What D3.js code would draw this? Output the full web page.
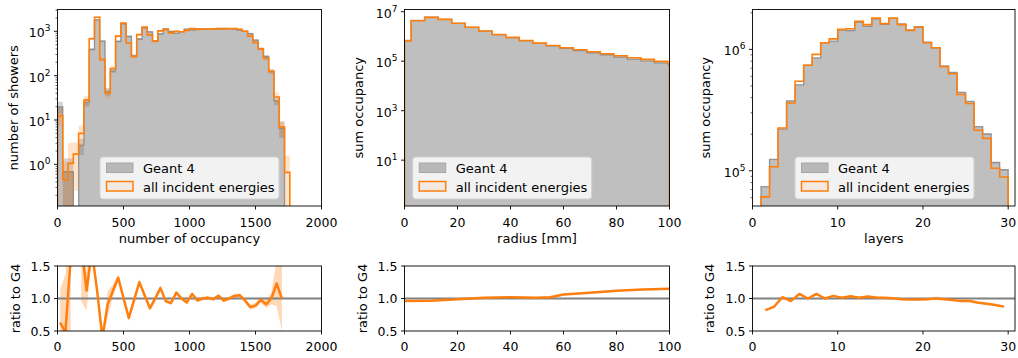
<!DOCTYPE html>
<html><head><meta charset="utf-8">
<script src="https://cdn.jsdelivr.net/npm/d3@7"></script>
<style>body{margin:0;background:#fff} text{font-family:"DejaVu Sans",sans-serif;fill:#000}</style>
</head><body><svg id="c" width="1018" height="358"></svg>
<script>
// ---------------- data ----------------
const seriesNames = ["Geant 4", "all incident energies"];

// panel 1: number of occupancy (bin width 40)
const occEdges = d3.range(0, 1761, 40);
const occG4  = [19.8,0.68,0.68,0,2.7,25,390,1800,600,44,128,590,1480,770,280,670,1190,975,610,880,1135,990,910,980,1115,1075,1135,1120,1120,1130,1115,1165,1150,1137,1057,1000,890,630,408,270,125,27,6.5,0];
const occGen = [12.4,0.45,1.05,1.7,5.0,28,680,2080,230,40,145,780,1540,545,270,840,1250,830,600,1020,1090,920,1000,980,1050,1150,1100,1120,1130,1120,1160,1130,1150,1160,1110,1000,780,560,400,245,125,33,7,0.66];
const occGenErr = [0.4,1.5,1.9,0.85,0.5,0.25,0.08,0.05,0.1,0.25,0.12,0.06,0.04,0.06,0.1,0.05,0.04,0.05,0.06,0.04,0.04,0.04,0.04,0.04,0.04,0.04,0.04,0.04,0.04,0.04,0.04,0.04,0.04,0.04,0.04,0.04,0.05,0.06,0.07,0.09,0.12,0.27,0.35,1.4];
const occG4Err  = [0.3,1.0,1.0,0,0.4,0.2,0.06,0.03,0.05,0.2,0.1,0.05,0.03,0.04,0.07,0.04,0.03,0.03,0.04,0.03,0.03,0.03,0.03,0.03,0.03,0.03,0.03,0.03,0.03,0.03,0.03,0.03,0.03,0.03,0.03,0.03,0.04,0.05,0.06,0.07,0.1,0.2,0.4,0];
const occRatio = [0.63,0.48,1.62,null,1.85,1.12,1.74,1.12,0.40,0.91,1.12,1.32,1.01,0.70,0.975,1.25,1.05,0.85,1.0,1.16,0.96,0.93,1.09,1.0,0.94,1.07,0.97,1.0,1.01,0.99,1.04,0.97,1.0,1.04,1.05,0.97,0.87,0.89,0.98,0.91,1.0,1.23,1.0];
const occRatioErr = [0.5,0.9,1.2,null,0.9,0.3,0.12,0.05,0.06,0.2,0.1,0.05,0.04,0.05,0.07,0.05,0.04,0.04,0.05,0.04,0.03,0.03,0.03,0.03,0.03,0.03,0.03,0.03,0.03,0.03,0.03,0.03,0.03,0.03,0.03,0.03,0.04,0.04,0.05,0.06,0.09,0.35,0.5];

// panel 2: radius [mm]
const radiusEdges = [0,2.5,7.6,12.7,17.8,22.9,28,33.1,38.2,43.3,48.4,53.5,58.6,63.7,68.8,73.9,79,84.1,89.2,94.3,99.4,100];
const radiusG4  = [6.9e5,4.45e6,6.05e6,4.95e6,3.4e6,2.33e6,1.64e6,1.18e6,9.0e5,6.75e5,5.3e5,4.2e5,3.3e5,2.7e5,2.2e5,1.82e5,1.48e5,1.22e5,1.03e5,8.6e4,7.1e4];
const radiusGen = [6.6e5,4.3e6,5.9e6,4.9e6,3.4e6,2.35e6,1.66e6,1.2e6,9.2e5,6.9e5,5.4e5,4.3e5,3.5e5,2.9e5,2.4e5,2.0e5,1.66e5,1.38e5,1.18e5,9.8e4,8.2e4];
const radiusRatioX = [0,10,20,30,40,50,55,60,70,80,90,100];
const radiusRatio  = [0.96,0.965,0.99,1.01,1.02,1.01,1.02,1.06,1.09,1.12,1.14,1.15];
const radiusRatioErr = [0.012,0.012,0.012,0.012,0.012,0.012,0.012,0.012,0.012,0.012,0.012,0.012];

// panel 3: layers
const layerEdges = d3.range(1, 31);
const layerG4  = [7.4e4,1.24e5,2.2e5,3.77e5,5.1e5,7.4e5,8.5e5,1.135e6,1.17e6,1.445e6,1.43e6,1.68e6,1.55e6,1.78e6,1.61e6,1.80e6,1.62e6,1.45e6,1.54e6,1.145e6,1.03e6,7.3e5,6.45e5,4.43e5,3.73e5,2.31e5,2.01e5,1.17e5,1.02e5];
const layerGen = [6.1e4,1.08e5,2.25e5,3.62e5,5.46e5,7.4e5,9.1e5,1.135e6,1.22e6,1.46e6,1.48e6,1.70e6,1.60e6,1.81e6,1.63e6,1.81e6,1.60e6,1.43e6,1.52e6,1.135e6,1.03e6,7.2e5,6.3e5,4.25e5,3.58e5,2.16e5,1.85e5,1.05e5,8.9e4];
const layerRatio = [0.82,0.87,1.02,0.96,1.07,1.0,1.07,1.0,1.04,1.01,1.035,1.01,1.03,1.015,1.01,1.005,0.99,0.985,0.985,0.99,1.0,0.99,0.975,0.96,0.96,0.935,0.92,0.90,0.875];
const layerRatioErr = [0.015,0.012,0.012,0.012,0.012,0.012,0.012,0.012,0.012,0.012,0.012,0.012,0.012,0.012,0.012,0.012,0.012,0.012,0.012,0.012,0.012,0.012,0.012,0.012,0.012,0.012,0.012,0.012,0.015];

// tick labels
const occXTicks = [0,500,1000,1500,2000];
const radiusXTicks = [0,20,40,60,80,100];
const layerXTicks = [0,10,20,30];
const occYTicks = [0,1,2,3];
const radiusYTicks = [1,3,5,7];
const layerYTicks = [5,6];
const ratioTicks = [0.5,1.0,1.5];
const xLabels = ["number of occupancy","radius [mm]","layers"];
const yLabels = ["number of showers","sum occupancy","sum occupancy"];

// ---------------- drawing ----------------
const ORANGE = "#ff7f0e", GRAYFILL = "#bfbfbf", GRAYEDGE = "#808080";
const svg = d3.select("#c");
const TOP = {y0: 9.5, y1: 206}, RAT = {y0: 266, y1: 331};

const panels = [
  {x0:57.5, x1:321.5, xdom:[0,2000], ydom:[0.115,3100], edges:occEdges, g4:occG4, gen:occGen, genErr:occGenErr, g4Err:occG4Err,
   xt:occXTicks, yt:occYTicks, minor:true, rx:null, r:occRatio, rErr:occRatioErr, ylabX:18, rlabX:19.5, legX:100},
  {x0:404.5, x1:669.5, xdom:[0,100], ydom:[0.14,1.23e7], edges:radiusEdges, g4:radiusG4, gen:radiusGen, genErr:null, g4Err:null,
   xt:radiusXTicks, yt:radiusYTicks, minor:false, rx:radiusRatioX, r:radiusRatio, rErr:radiusRatioErr, ylabX:363, rlabX:367, legX:412.7},
  {x0:752.5, x1:1015, xdom:[0,30.8], ydom:[5.13e4,2.13e6], edges:layerEdges, g4:layerG4, gen:layerGen, genErr:null, g4Err:null,
   xt:layerXTicks, yt:layerYTicks, minor:true, rx:null, r:layerRatio, rErr:layerRatioErr, ylabX:710, rlabX:714, legX:795}
];

panels.forEach((p, pi) => {
  const x = d3.scaleLinear().domain(p.xdom).range([p.x0, p.x1]);
  const y = d3.scaleLog().domain(p.ydom).range([TOP.y1, TOP.y0]);
  const yr = d3.scaleLinear().domain([0.5,1.5]).range([RAT.y1, RAT.y0]);
  const clipTop = "ct"+pi, clipRat = "cr"+pi;
  const defs = svg.append("defs");
  defs.append("clipPath").attr("id", clipTop).append("rect")
    .attr("x", p.x0).attr("y", TOP.y0).attr("width", p.x1-p.x0).attr("height", TOP.y1-TOP.y0);
  defs.append("clipPath").attr("id", clipRat).append("rect")
    .attr("x", p.x0).attr("y", RAT.y0).attr("width", p.x1-p.x0).attr("height", RAT.y1-RAT.y0);

  const yy = v => v > 0 ? y(v) : TOP.y1 + 3;
  function stepPts(vals) {
    const pts = [[x(p.edges[0]), TOP.y1 + 3]];
    vals.forEach((v, i) => { pts.push([x(p.edges[i]), yy(v)]); pts.push([x(p.edges[i+1]), yy(v)]); });
    pts.push([x(p.edges[vals.length]), TOP.y1 + 3]);
    return pts;
  }
  const line = d3.line();
  const gTop = svg.append("g").attr("clip-path", `url(#${clipTop})`);
  // gray filled hist
  gTop.append("path").attr("d", line(stepPts(p.g4)) + "Z").attr("fill", GRAYFILL).attr("stroke", "none");
  // error bands
  function bands(vals, errs, color, op) {
    if (!errs) return;
    vals.forEach((v, i) => {
      const e = errs[i];
      if (!(v > 0) || !e) return;
      const hi = v*(1+e), lo = v*(1-e);
      const yHi = y(hi), yLo = lo > 0 ? y(lo) : TOP.y1 + 3;
      gTop.append("rect").attr("x", x(p.edges[i])).attr("width", x(p.edges[i+1]) - x(p.edges[i]))
        .attr("y", yHi).attr("height", Math.max(0, yLo - yHi)).attr("fill", color).attr("opacity", op);
    });
  }
  bands(p.g4, p.g4Err, "#707070", 0.3);
  gTop.append("path").attr("d", line(stepPts(p.g4))).attr("fill", "none").attr("stroke", GRAYEDGE)
    .attr("stroke-width", 1.3).attr("stroke-opacity", 0.8);
  bands(p.gen, p.genErr, ORANGE, 0.22);
  gTop.append("path").attr("d", line(stepPts(p.gen))).attr("fill", "none").attr("stroke", ORANGE)
    .attr("stroke-width", 1.6).attr("stroke-linejoin", "miter");

  // axes frame top
  svg.append("rect").attr("x", p.x0).attr("y", TOP.y0).attr("width", p.x1-p.x0).attr("height", TOP.y1-TOP.y0)
    .attr("fill", "none").attr("stroke", "#000").attr("stroke-width", 0.9);
  // x ticks top
  p.xt.forEach(t => {
    const X = x(t);
    svg.append("line").attr("x1", X).attr("x2", X).attr("y1", TOP.y1).attr("y2", TOP.y1+3.5).attr("stroke", "#000").attr("stroke-width", 0.9);
    svg.append("text").attr("x", X).attr("y", TOP.y1 + 20.5).attr("text-anchor", "middle").attr("font-size", "12.5px").text(t);
  });
  // y ticks (log)
  p.yt.forEach(e => {
    const Y = y(Math.pow(10, e));
    svg.append("line").attr("x1", p.x0-3.5).attr("x2", p.x0).attr("y1", Y).attr("y2", Y).attr("stroke", "#000").attr("stroke-width", 0.9);
    const t = svg.append("text").attr("x", p.x0 - 7).attr("y", Y + 6).attr("text-anchor", "end").attr("font-size", "12.5px");
    t.append("tspan").text("10");
    t.append("tspan").attr("dy", -6).attr("font-size", "9px").text(e);
  });
  if (p.minor) {
    const lo = Math.floor(Math.log10(p.ydom[0])), hi = Math.ceil(Math.log10(p.ydom[1]));
    for (let d = lo; d <= hi; d++) for (let m = 2; m <= 9; m++) {
      const v = m*Math.pow(10, d);
      if (v < p.ydom[0] || v > p.ydom[1]) continue;
      const Y = y(v);
      svg.append("line").attr("x1", p.x0-2).attr("x2", p.x0).attr("y1", Y).attr("y2", Y).attr("stroke", "#000").attr("stroke-width", 0.6);
    }
  }
  // labels
  svg.append("text").attr("x", (p.x0+p.x1)/2).attr("y", 242.5).attr("text-anchor", "middle").attr("font-size", "13px").text(xLabels[pi]);
  svg.append("text").attr("transform", `translate(${p.ylabX},${(TOP.y0+TOP.y1)/2}) rotate(-90)`).attr("text-anchor", "middle")
    .attr("font-size", "13px").text(yLabels[pi]);

  // legend
  const lg = svg.append("g").attr("transform", `translate(${p.legX},157)`);
  lg.append("rect").attr("width", 179).attr("height", 42).attr("rx", 3).attr("fill", "#fff").attr("fill-opacity", 0.8)
    .attr("stroke", "#d0d0d0").attr("stroke-width", 1);
  lg.append("rect").attr("x", 6.5).attr("y", 6).attr("width", 26.5).attr("height", 9.5).attr("fill", "#b8b8b8").attr("stroke", "#a8a8a8").attr("stroke-width", 1);
  lg.append("rect").attr("x", 6.5).attr("y", 24.5).attr("width", 26.5).attr("height", 9.5).attr("fill", ORANGE).attr("fill-opacity", 0.08)
    .attr("stroke", ORANGE).attr("stroke-width", 1.5);
  lg.append("text").attr("x", 43).attr("y", 15.8).attr("font-size", "13px").text(seriesNames[0]);
  lg.append("text").attr("x", 43).attr("y", 34.8).attr("font-size", "13px").text(seriesNames[1]);

  // ratio panel
  const rx = p.rx ? p.rx : p.r.map((_, i) => (p.edges[i] + p.edges[i+1]) / 2);
  const rd = p.r.map((v, i) => ({x: rx[i], v: v, e: p.rErr[i]}));
  const gR = svg.append("g").attr("clip-path", `url(#${clipRat})`);
  gR.append("path").datum(rd).attr("d", d3.area().defined(d => d.v != null).x(d => x(d.x))
      .y0(d => yr(d.v - d.e)).y1(d => yr(d.v + d.e)))
    .attr("fill", ORANGE).attr("fill-opacity", 0.3);
  gR.append("line").attr("x1", p.x0).attr("x2", p.x1).attr("y1", yr(1)).attr("y2", yr(1)).attr("stroke", "#808080").attr("stroke-width", 2);
  gR.append("path").datum(rd).attr("d", d3.line().defined(d => d.v != null).x(d => x(d.x)).y(d => yr(d.v)))
    .attr("fill", "none").attr("stroke", ORANGE).attr("stroke-width", 2.5).attr("stroke-linejoin", "round");
  svg.append("rect").attr("x", p.x0).attr("y", RAT.y0).attr("width", p.x1-p.x0).attr("height", RAT.y1-RAT.y0)
    .attr("fill", "none").attr("stroke", "#000").attr("stroke-width", 0.9);
  p.xt.forEach(t => {
    const X = x(t);
    svg.append("line").attr("x1", X).attr("x2", X).attr("y1", RAT.y1).attr("y2", RAT.y1+3.5).attr("stroke", "#000").attr("stroke-width", 0.9);
    svg.append("text").attr("x", X).attr("y", RAT.y1 + 19.5).attr("text-anchor", "middle").attr("font-size", "12.5px").text(t);
  });
  ratioTicks.forEach(t => {
    const Y = yr(t);
    svg.append("line").attr("x1", p.x0-3.5).attr("x2", p.x0).attr("y1", Y).attr("y2", Y).attr("stroke", "#000").attr("stroke-width", 0.9);
    svg.append("text").attr("x", p.x0 - 7).attr("y", Y + 4.5).attr("text-anchor", "end").attr("font-size", "12.5px").text(d3.format(".1f")(t));
  });
  svg.append("text").attr("transform", `translate(${p.rlabX},${(RAT.y0+RAT.y1)/2}) rotate(-90)`).attr("text-anchor", "middle")
    .attr("font-size", "13px").text("ratio to G4");
});
</script></body></html>
